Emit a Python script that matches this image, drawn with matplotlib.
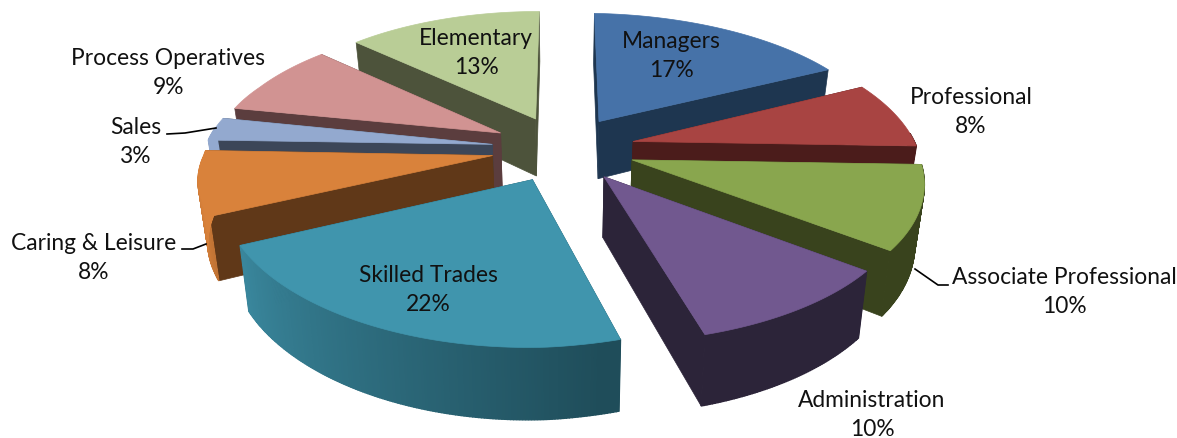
import numpy as np
import matplotlib
matplotlib.use("Agg")
import matplotlib.pyplot as plt
from matplotlib.colors import to_rgb

categories = ["Managers", "Professional", "Associate Professional", "Administration",
              "Skilled Trades", "Caring & Leisure", "Sales", "Process Operatives", "Elementary"]
shares = [17, 8, 10, 10, 22, 8, 3, 9, 13]
top_colors = ["#4672a8", "#a84442", "#89a64e", "#71588f", "#4095ad",
              "#d9823b", "#93a9cf", "#d19392", "#b9cd96"]
side_colors = ["#1e3650", "#4b1c1b", "#39431d", "#2c2439", "#1f4d5a",
               "#603818", "#3c4658", "#5b3d3e", "#4d533b"]
label_pos = [(671, 56), (971, 112), (1064, 292), (872, 415), (428, 290),
             (94, 258), (136, 142), (168, 73), (476, 53)]

# projection settings for the fake 3D pie
CX, CY = 563, 149.5
RX, RY = 292, 132
PERSP = 0.15
DEPTH = 59
EXPLODE = 0.25


def project(x, y, z=0.0):
    w = 1 + PERSP * y
    # small corrections on top of the perspective, the original is not quite symmetric
    sx = RX * x / w - 15 * min(x + 1, 1.1) * max(-y, 0)
    sx += 7 * max(-x, 0) * np.clip((y + 0.6) / 0.5, 0, 1)
    sx -= 6 * max(-x, 0) * np.clip((-y - 0.55) / 0.15, 0, 1)
    sx -= 25 * max(x - 1, 0)
    roll = 4.5 * x if x > 0 else 9 * x * np.clip(0.5 - y, 0, 1)
    sy = -RY * y / w + roll + DEPTH * z / w
    return CX + sx * (1 - 0.027 * z), CY + sy


def rim_shade(top, side, ang):
    # outer edge is lit on the left of the pie, dark towards the right
    t = np.clip((ang - 165) / 95, 0, 1)
    return tuple(np.array(to_rgb(side)) * (1 - t) + np.array(to_rgb(top)) * t)


fig = plt.figure(figsize=(11.77, 4.39), dpi=100)
ax = fig.add_axes([0, 0, 1, 1])
ax.set_xlim(0, 1177)
ax.set_ylim(439, 0)
ax.axis("off")

edges = np.cumsum([0] + shares) / sum(shares) * 360
mids = (edges[:-1] + edges[1:]) / 2
order = np.argsort(-np.cos(np.radians(mids)))

for i in order:
    a0, a1 = edges[i], edges[i + 1]
    m = np.radians(mids[i])
    ox, oy = EXPLODE * np.sin(m), EXPLODE * np.cos(m)
    angs = np.linspace(a0, a1, max(int(a1 - a0), 2) * 2 + 1)
    xs = ox + np.sin(np.radians(angs))
    ys = oy + np.cos(np.radians(angs))

    # radial walls
    for x_end, y_end in [(xs[0], ys[0]), (xs[-1], ys[-1])]:
        p = [project(ox, oy), project(x_end, y_end), project(x_end, y_end, 1), project(ox, oy, 1)]
        ax.fill(*zip(*p), color=side_colors[i], lw=0.5, zorder=1)

    # outer rim, one quad per step so the shading can change; back of the pie is not seen
    for k in range(len(angs) - 1):
        if np.cos(np.radians(angs[k])) > 0.1:
            continue
        p = [project(xs[k], ys[k]), project(xs[k + 1], ys[k + 1]),
             project(xs[k + 1], ys[k + 1], 1), project(xs[k], ys[k], 1)]
        ax.fill(*zip(*p), color=rim_shade(top_colors[i], side_colors[i], angs[k]), lw=1, zorder=1)

    # top face
    p = [project(ox, oy)] + [project(x, y) for x, y in zip(xs, ys)]
    ax.fill(*zip(*p), color=top_colors[i], lw=0.5, zorder=1)

for name, share, (lx, ly) in zip(categories, shares, label_pos):
    ax.text(lx, ly, f"{name}\n{share}%", ha="center", va="center", fontsize=16.4,
            family="Lato", color="#111111", linespacing=1.45, zorder=3)

# leader lines
ax.plot([167, 185, 216], [135, 134, 129], color="black", lw=1.2, zorder=2)
ax.plot([182, 193, 206], [250, 250, 245], color="black", lw=1.2, zorder=2)
ax.plot([915, 938, 948], [270, 286, 286], color="black", lw=1.2, zorder=2)

fig.savefig("out.png", dpi=100)
